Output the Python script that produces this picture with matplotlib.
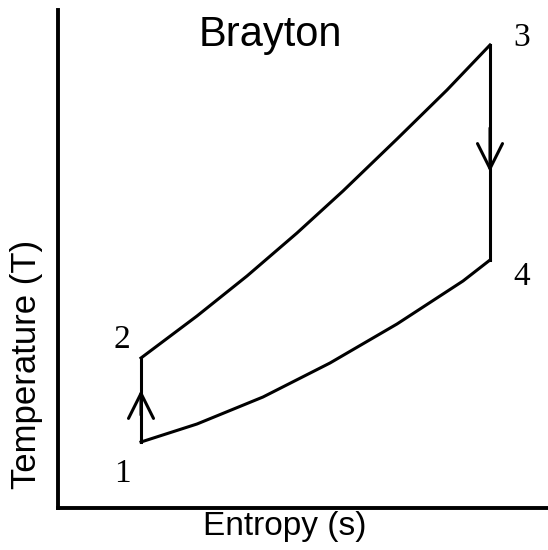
import matplotlib
matplotlib.use("Agg")
import matplotlib.pyplot as plt

# state points (entropy s, temperature T)
state_labels = ["1", "2", "3", "4"]
state_s = [83, 83, 432, 432]
state_T = [66, 150, 463, 248]

# heat addition curve 2 -> 3
heat_in_s = [83, 139, 189, 239, 285, 339, 389, 432]
heat_in_T = [150, 192, 232, 275, 317, 369, 418, 463]

# heat rejection curve 1 -> 4
heat_out_s = [83, 139, 205, 272, 339, 405, 432]
heat_out_T = [66, 84, 111, 145, 184, 227, 248]

# direction arrows: (s, tail T, tip T)
arrow_s = [83, 432]
arrow_tail = [93, 380]
arrow_tip = [118, 336]

# label offsets from state points (s, T)
label_ds = [-19, -19, 32, 32]
label_dT = [-32, 18, 7, -17]

LINE = "#000000"

fig = plt.figure(figsize=(5.48, 5.50), dpi=100)
ax = fig.add_axes([58 / 548, 42 / 550, 490 / 548, 498 / 550])
ax.set_xlim(0, 490)
ax.set_ylim(0, 498)

for side in ["top", "right"]:
    ax.spines[side].set_visible(False)
for side in ["left", "bottom"]:
    ax.spines[side].set_linewidth(2.8)
ax.set_xticks([])
ax.set_yticks([])

# compression 1 -> 2 and expansion 3 -> 4
ax.plot([state_s[0], state_s[1]], [state_T[0], state_T[1]], color=LINE, lw=2.2)
ax.plot([state_s[2], state_s[3]], [state_T[2], state_T[3]], color=LINE, lw=2.2)
ax.plot(heat_in_s, heat_in_T, color=LINE, lw=2.2, solid_joinstyle="round")
ax.plot(heat_out_s, heat_out_T, color=LINE, lw=2.2, solid_joinstyle="round")

for s, t0, t1 in zip(arrow_s, arrow_tail, arrow_tip):
    ax.annotate("", xy=(s, t1), xytext=(s, t0),
                arrowprops=dict(arrowstyle="->,head_length=0.9,head_width=0.45",
                                color=LINE, lw=2.2, mutation_scale=20,
                                shrinkA=0, shrinkB=0))

for lab, s, t, ds, dT in zip(state_labels, state_s, state_T, label_ds, label_dT):
    ax.text(s + ds, t + dT, lab, ha="center", va="center",
            fontsize=24, family="Liberation Serif")

ax.text(212, 473, "Brayton", ha="center", va="center",
        fontsize=30, family="Liberation Sans")

fig.text(285 / 548, 1 - 527 / 550, "Entropy (s)", ha="center", va="center",
         fontsize=24, family="Liberation Sans")
fig.text(27 / 548, 1 - 364 / 550, "Temperature (T)", ha="center", va="center",
         rotation=90, fontsize=25, family="Liberation Sans")

fig.savefig("out.png", dpi=100)
